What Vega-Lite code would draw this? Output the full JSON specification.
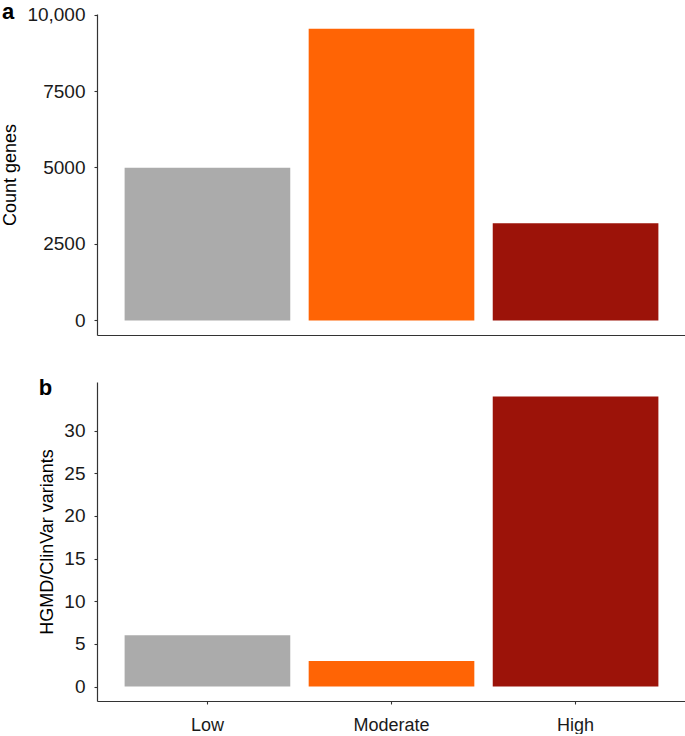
{
  "$schema": "https://vega.github.io/schema/vega-lite/v6.json",
  "padding": {"left": 1, "top": 0, "right": 0, "bottom": 0},
  "background": "white",
  "config": {
    "view": {"stroke": null},
    "font": "Liberation Sans",
    "axis": {
      "grid": false,
      "domainColor": "#333333",
      "domainWidth": 1.2,
      "tickColor": "#333333",
      "tickWidth": 1.1,
      "tickSize": 3,
      "labelFontSize": 19,
      "labelColor": "#1a1a1a",
      "labelPadding": 9,
      "titleFontSize": 18,
      "titleFontWeight": "normal",
      "titleColor": "#000000",
      "titlePadding": 7
    },
    "title": {"fontSize": 22, "fontWeight": "bold", "anchor": "start", "frame": "bounds", "color": "#000000"}
  },
  "data": {
    "values": [
      {"impact": "Low", "genes": 4990, "variants": 6},
      {"impact": "Moderate", "genes": 9540, "variants": 3},
      {"impact": "High", "genes": 3180, "variants": 34}
    ]
  },
  "spacing": 42,
  "vconcat": [
    {
      "width": 589,
      "height": 321,
      "title": {"text": "a", "offset": -18},
      "mark": {"type": "bar"},
      "encoding": {
        "x": {
          "field": "impact", "type": "nominal", "sort": ["Low", "Moderate", "High"],
          "scale": {"paddingInner": 0.1, "paddingOuter": 0.15},
          "axis": {"title": null, "labels": false, "ticks": false}
        },
        "y": {
          "field": "genes", "type": "quantitative",
          "scale": {"domain": [-477, 10019], "nice": false, "zero": false},
          "axis": {"values": [0, 2500, 5000, 7500, 10000], "title": "Count genes",
                   "labelExpr": "datum.value === 10000 ? '10,000' : format(datum.value, 'd')"}
        },
        "y2": {"datum": 0},
        "color": {
          "field": "impact", "type": "nominal",
          "scale": {"domain": ["Low", "Moderate", "High"], "range": ["#ABABAB", "#FF6405", "#9C1309"]},
          "legend": null
        }
      }
    },
    {
      "width": 589,
      "height": 319,
      "title": {"text": "b", "offset": -18},
      "mark": {"type": "bar"},
      "encoding": {
        "x": {
          "field": "impact", "type": "nominal", "sort": ["Low", "Moderate", "High"],
          "scale": {"paddingInner": 0.1, "paddingOuter": 0.15},
          "axis": {"title": null, "labelAngle": 0, "labelPadding": 12, "labelFontSize": 18}
        },
        "y": {
          "field": "variants", "type": "quantitative",
          "scale": {"domain": [-1.7, 35.7], "nice": false, "zero": false},
          "axis": {"values": [0, 5, 10, 15, 20, 25, 30], "title": "HGMD/ClinVar variants"}
        },
        "y2": {"datum": 0},
        "color": {
          "field": "impact", "type": "nominal",
          "scale": {"domain": ["Low", "Moderate", "High"], "range": ["#ABABAB", "#FF6405", "#9C1309"]},
          "legend": null
        }
      }
    }
  ]
}
